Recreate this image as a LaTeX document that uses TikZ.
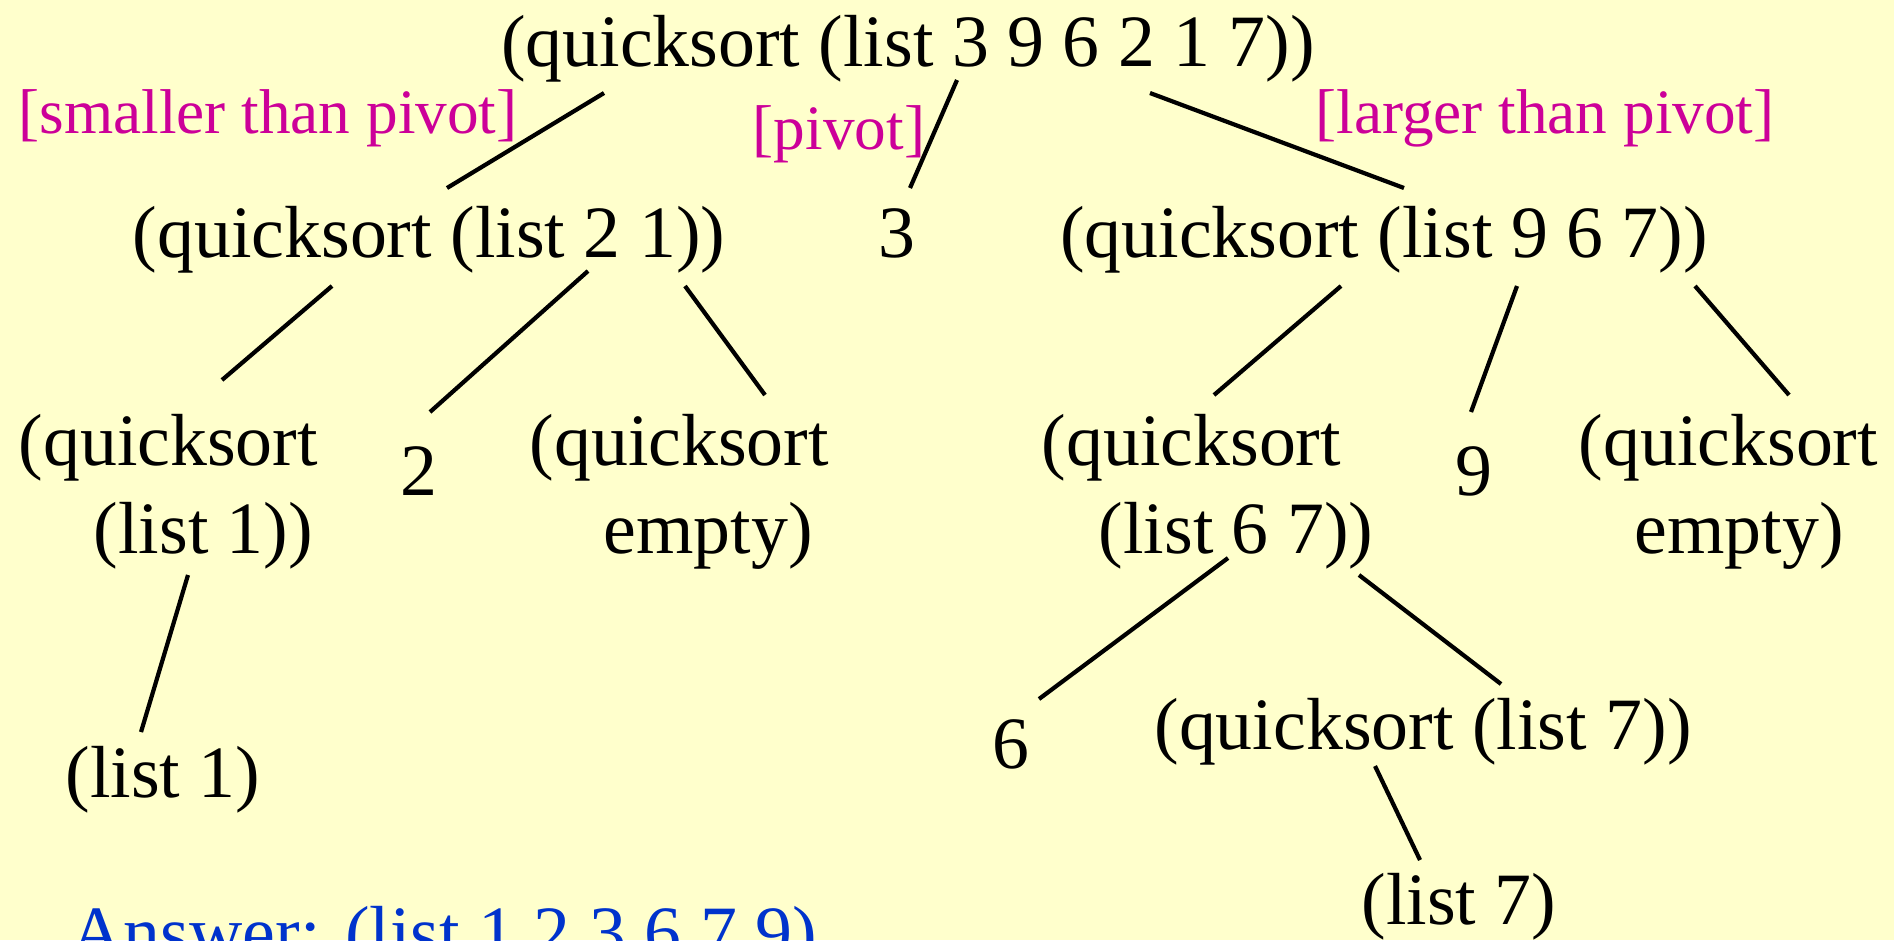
\documentclass[tikz,border=0pt]{standalone}
\usepackage{fontspec}
\setmainfont{Liberation Serif}
\definecolor{paper}{HTML}{FFFFCC}
\definecolor{notecol}{HTML}{CC0099}
\definecolor{answercol}{HTML}{0033CC}
\begin{document}
\begin{tikzpicture}[
		every node/.style={inner sep=0pt, font=\fontsize{21}{25}\selectfont},
		note/.style={text=notecol, font=\fontsize{18}{22}\selectfont},
		twoline/.style={anchor=base west, align=left},
		edge/.style={line width=1.2pt}]
		% page
		\fill[paper] (0, 0) rectangle (18.94, -9.40);
		\clip (0, 0) rectangle (18.94, -9.40);
		
		% top call
		\node[anchor=base] (root) at (9.08, -0.66) {(quicksort (list 3 9 6 2 1 7))};
		\node[note, anchor=base] (smaller) at (2.68, -1.33) {[smaller than pivot]};
		\node[note, anchor=base] (pivot) at (8.39, -1.49) {[pivot]};
		\node[note, anchor=base] (larger) at (15.45, -1.33) {[larger than pivot]};
		
		% second level
		\node[anchor=base] (lc) at (4.29, -2.57) {(quicksort (list 2 1))};
		\node[anchor=base] (p3) at (8.97, -2.57) {3};
		\node[anchor=base] (rc) at (13.84, -2.57) {(quicksort (list 9 6 7))};
		
		% third level (base = last line)
		\node[twoline] (q1) at (0.18, -5.53) {(quicksort\\\hspace*{0.75cm}(list 1))};
		\node[anchor=base] (p2) at (4.19, -4.95) {2};
		\node[twoline] (q2) at (5.29, -5.53) {(quicksort\\\hspace*{0.74cm}empty)};
		\node[twoline] (q3) at (10.41, -5.53) {(quicksort\\\hspace*{0.57cm}(list 6 7))};
		\node[anchor=base] (p9) at (14.74, -4.95) {9};
		\node[twoline] (q4) at (15.78, -5.53) {(quicksort\\\hspace*{0.56cm}empty)};
		
		% bottom
		\node[anchor=base] (l1) at (1.63, -7.97) {(list 1)};
		\node[anchor=base] (p6) at (10.11, -7.68) {6};
		\node[anchor=base] (q5) at (14.23, -7.49) {(quicksort (list 7))};
		\node[anchor=base] (l7) at (14.59, -9.24) {(list 7)};
		\node[anchor=base west, text=answercol] (ans) at (0.70, -9.57) {Answer: (list 1 2 3 6 7 9)};
		
		% tree lines
		\draw[edge] ([shift={(-3.04,-0.27)}]root.base) -- ([shift={(0.18,0.69)}]lc.base);
		\draw[edge] ([shift={(0.49,-0.14)}]root.base) -- ([shift={(0.13,0.69)}]p3.base);
		\draw[edge] ([shift={(2.42,-0.27)}]root.base) -- ([shift={(0.20,0.69)}]rc.base);
		\draw[edge] ([shift={(-0.97,-0.29)}]lc.base) -- ([shift={(2.04,1.73)}]q1.base west);
		\draw[edge] ([shift={(1.59,-0.14)}]lc.base) -- ([shift={(0.11,0.83)}]p2.base);
		\draw[edge] ([shift={(2.56,-0.29)}]lc.base) -- ([shift={(2.36,1.58)}]q2.base west);
		\draw[edge] ([shift={(-0.43,-0.29)}]rc.base) -- ([shift={(1.73,1.58)}]q3.base west);
		\draw[edge] ([shift={(1.33,-0.29)}]rc.base) -- ([shift={(-0.03,0.83)}]p9.base);
		\draw[edge] ([shift={(3.11,-0.29)}]rc.base) -- ([shift={(2.11,1.58)}]q4.base west);
		\draw[edge] ([shift={(1.70,-0.22)}]q1.base west) -- ([shift={(-0.22,0.65)}]l1.base);
		\draw[edge] ([shift={(1.87,-0.05)}]q3.base west) -- ([shift={(0.28,0.69)}]p6.base);
		\draw[edge] ([shift={(3.18,-0.22)}]q3.base west) -- ([shift={(0.78,0.65)}]q5.base);
		\draw[edge] ([shift={(-0.48,-0.17)}]q5.base) -- ([shift={(-0.39,0.64)}]l7.base);
	\end{tikzpicture}
\end{document}
